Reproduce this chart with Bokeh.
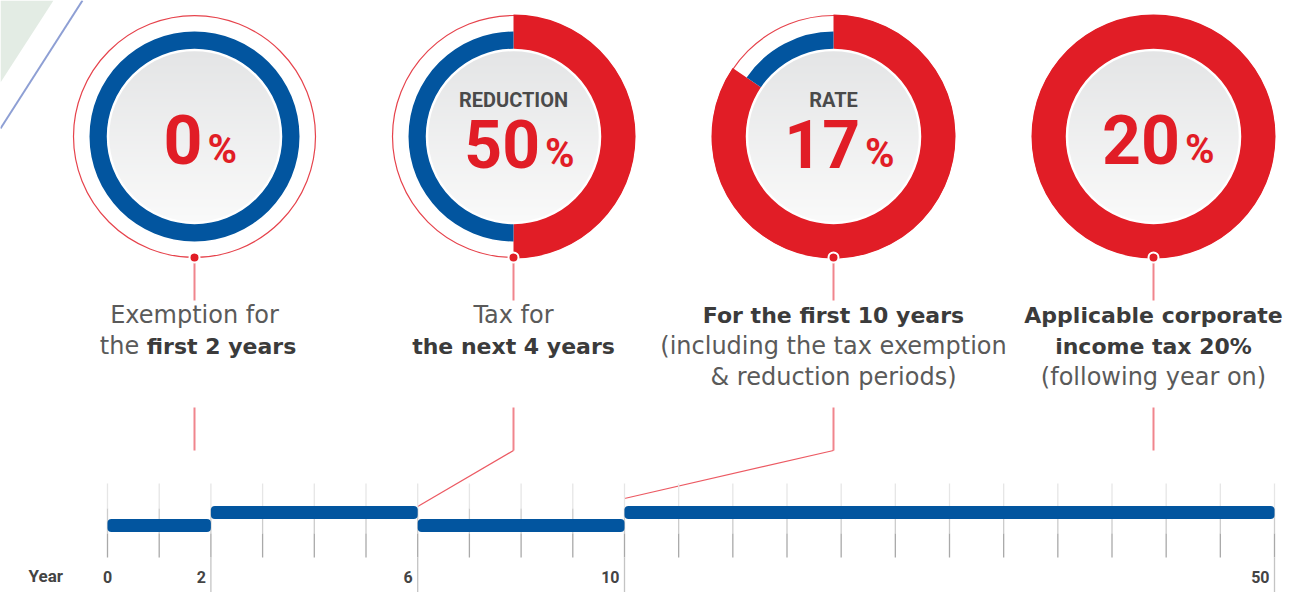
import math
import numpy as np
from bokeh.plotting import figure
from bokeh.models import Range1d
from bokeh.core.properties import value
from bokeh.embed import file_html
from bokeh.resources import INLINE

# ---------------- data ----------------
big_numbers = ["0", "50", "17", "20"]
headers = ["", "REDUCTION", "RATE", ""]
red_share = [0.0, 0.5, 0.845, 1.0]          # share of each ring drawn in red
label_lines = [
    [[("Exemption for", False)], [("the ", False), ("first 2 years", True)]],
    [[("Tax for", False)], [("the next 4 years", True)]],
    [[("For the first 10 years", True)], [("(including the tax exemption", False)],
     [("& reduction periods)", False)]],
    [[("Applicable corporate", True)], [("income tax 20%", True)], [("(following year on)", False)]],
]
connector_year = [None, 6, 10, None]
period_start = [0, 2, 6, 10]
period_end = [2, 6, 10, 50]
period_level = [0, 1, 0, 1]
axis_years = [0, 2, 6, 10, 50]
axis_labels = ["0", "2", "6", "10", "50"]
axis_title = "Year"

# ---------------- layout / style ----------------
W, H = 1313, 592
UNIT_PX = 51.7          # px per year (years 0..10)
ORIGIN_PX = 107         # page x of year 0
LATE_SPAN_PX = 650      # px for years 10..50
CX_PX = [194, 513, 833, 1153]
CY = 136
R_DISK = 86.5
RED = "#e11d26"
BLUE = "#02559f"
PINK = "#f0858d"
TXT = "#5a5a5a"
TXT_B = "#3b3b3b"
LABEL_FONT = "DejaVu Sans"
NUM_FONT = "Roboto"


def px(xp):
    return (xp - ORIGIN_PX) / UNIT_PX


def pos(year):
    if year <= 10:
        return float(year)
    return 10 + (year - 10) * (LATE_SPAN_PX / UNIT_PX) / 40.0


def ymid(baseline, size):
    return baseline - 0.36 * size


def est_width(s, size, bold):
    w = 0.0
    for ch in s:
        if ch in "ilfjtr .,()'!|":
            w += 0.36 if not bold else 0.42
        elif ch in "mwMW%":
            w += 0.97
        else:
            w += 0.62 if not bold else 0.68
    return w * size


p = figure(width=W, height=H, x_range=Range1d(px(0), px(W)), y_range=Range1d(H, 0),
           output_backend="svg", toolbar_location=None, min_border=0,
           x_axis_type=None, y_axis_type=None)
p.grid.visible = False
p.outline_line_color = None
p.background_fill_color = "white"
p.border_fill_color = "white"

# decoration top-left
p.patch([px(0), px(53), px(0)], [0, 0, 82], fill_color="#e3ece4", line_color=None)
p.line([px(82), px(0)], [0, 128], line_color="#8e9fd4", line_width=2)

xs = [px(c) for c in CX_PX]
ys = [CY] * len(xs)

# thin outer circles
p.circle(x=xs, y=ys, radius=121, radius_units="screen", fill_color=None, line_color="#e6434c", line_width=1.2)

# red arcs (clockwise from top)
for x, s in zip(xs, red_share):
    if s <= 0:
        continue
    if s >= 1:
        a0, a1 = 0.0, 2 * math.pi
    else:
        a0, a1 = math.pi / 2 - s * 2 * math.pi, math.pi / 2
    p.annular_wedge(x=[x], y=[CY], inner_radius=86, outer_radius=122, inner_radius_units="screen",
                    outer_radius_units="screen", start_angle=a0, end_angle=a1, direction="anticlock",
                    fill_color=RED, line_color=None)
# blue arcs (the remaining share)
for x, s in zip(xs, red_share):
    if s >= 1:
        continue
    if s <= 0:
        a0, a1 = 0.0, 2 * math.pi
    else:
        a0, a1 = math.pi / 2, math.pi / 2 + (1 - s) * 2 * math.pi
    p.annular_wedge(x=[x], y=[CY], inner_radius=86, outer_radius=105, inner_radius_units="screen",
                    outer_radius_units="screen", start_angle=a0, end_angle=a1, direction="anticlock",
                    fill_color=BLUE, line_color=None)

# inner grey disk with vertical gradient (image): darker at top, lighter at bottom
N = int(2 * R_DISK) + 2
yy, xx = np.mgrid[0:N, 0:N]
c = (N - 1) / 2.0
dist = np.sqrt((xx - c) ** 2 + (yy - c) ** 2)
alpha = np.clip(R_DISK - dist + 0.5, 0, 1)
t = yy / (N - 1.0)
top_col = np.array([228, 229, 230], float)
bot_col = np.array([250, 250, 250], float)
rgb = top_col[None, None, :] * (1 - t[..., None]) + bot_col[None, None, :] * t[..., None]
img = np.zeros((N, N, 4), dtype=np.uint8)
img[..., :3] = rgb.astype(np.uint8)
img[..., 3] = (alpha * 255).astype(np.uint8)
img32 = img.view(dtype=np.uint32).reshape((N, N))
for x in xs:
    p.image_rgba(image=[img32], x=[x], y=[CY], dw=[N / UNIT_PX], dh=[N], anchor="center",
                 origin="bottom_left")
p.circle(x=xs, y=ys, radius=R_DISK, radius_units="screen", fill_color=None, line_color="white",
         line_width=2.5)

# numbers
PCT_SIZE, GAP = 40, 5
for x_px, num, hdr in zip(CX_PX, big_numbers, headers):
    num_size = 66 if hdr else 68
    num_w = 37 * len(num)
    split = x_px + (num_w - GAP - 30) / 2 + 7
    base = 167 if hdr else 163
    p.text(x=[px(split)], y=[ymid(base, num_size)], text=[num], text_font=value(NUM_FONT),
           text_font_style="bold", text_font_size=value(f"{num_size}px"), text_color=RED,
           text_align="right", text_baseline="middle")
    p.text(x=[px(split + GAP)], y=[ymid(base, PCT_SIZE)], text=["%"], text_font=value(NUM_FONT),
           text_font_style="bold", text_font_size=value(f"{PCT_SIZE}px"), text_color=RED,
           text_align="left", text_baseline="middle")
    if hdr:
        p.text(x=[px(x_px)], y=[ymid(107, 20)], text=[hdr], text_font=value(NUM_FONT),
               text_font_style="bold", text_font_size=value("20px"), text_color="#4a4a4a",
               text_align="center", text_baseline="middle")

# dots and connectors
p.segment(x0=xs, y0=[262] * 4, x1=xs, y1=[300] * 4, line_color=PINK, line_width=2)
p.segment(x0=xs, y0=[407] * 4, x1=xs, y1=[450] * 4, line_color=PINK, line_width=2)
conn_end_y = [None, 506, 498, None]
for x, yr, ye in zip(xs, connector_year, conn_end_y):
    if yr is None:
        continue
    p.line([x, pos(yr)], [450, ye], line_color="#ec5a63", line_width=1.2)
p.scatter(x=xs, y=[257] * 4, size=10, marker="circle", fill_color=RED, line_color="white", line_width=2)

# label texts
REG, BLD = 24, 22
for x_px, lines in zip(CX_PX, label_lines):
    for li, segs in enumerate(lines):
        base = 323 + 31 * li
        if len(segs) == 1:
            t_, b = segs[0]
            sz = BLD if b else REG
            p.text(x=[px(x_px)], y=[ymid(base, sz)], text=[t_], text_font=value(LABEL_FONT),
                   text_font_style="bold" if b else "normal", text_font_size=value(f"{sz}px"),
                   text_color=TXT_B if b else TXT, text_align="center", text_baseline="middle")
        else:
            widths = [est_width(t_, BLD if b else REG, b) for t_, b in segs]
            left = x_px - sum(widths) / 2 + 6
            for (t_, b), w in zip(segs, widths):
                sz = BLD if b else REG
                p.text(x=[px(left)], y=[ymid(base, sz)], text=[t_], text_font=value(LABEL_FONT),
                       text_font_style="bold" if b else "normal", text_font_size=value(f"{sz}px"),
                       text_color=TXT_B if b else TXT, text_align="left", text_baseline="middle")
                left += w

# timeline tick lines
tick_pos = [pos(y) for y in range(0, 11)] + [10 + i * (pos(50) - 10) / 12 for i in range(1, 13)]
for (y0, y1, col) in [(483, 508, "#e6e6e6"), (508, 533, "#cccccc"), (533, 557, "#a9a9a9")]:
    p.segment(x0=tick_pos, y0=[y0] * len(tick_pos), x1=tick_pos, y1=[y1] * len(tick_pos),
              line_color=col, line_width=1.3)
major = [pos(y) for y in axis_years if y > 0]
p.segment(x0=major, y0=[557] * len(major), x1=major, y1=[600] * len(major), line_color="#c4c4c4",
          line_width=1.3)

# period bars
BAR_Y = {0: 525, 1: 512}
inset = 4 / UNIT_PX
p.quad(left=[pos(s) + inset for s in period_start], right=[pos(e) - inset for e in period_end],
       top=[BAR_Y[l] - 2.5 for l in period_level], bottom=[BAR_Y[l] + 2.5 for l in period_level],
       fill_color=BLUE, line_color=BLUE, line_width=8, line_join="round")

# axis labels
AX = 16
for yr, lab in zip(axis_years, axis_labels):
    if yr == 0:
        p.text(x=[pos(yr)], y=[ymid(582, AX)], text=[lab], text_font=value(NUM_FONT), text_font_style="bold",
               text_font_size=value(f"{AX}px"), text_color="#444444", text_align="center",
               text_baseline="middle")
    else:
        p.text(x=[pos(yr) - 5 / UNIT_PX], y=[ymid(582, AX)], text=[lab], text_font=value(NUM_FONT),
               text_font_style="bold", text_font_size=value(f"{AX}px"), text_color="#444444",
               text_align="right", text_baseline="middle")
p.text(x=[px(28)], y=[ymid(582, 17)], text=[axis_title], text_font=value(NUM_FONT), text_font_style="bold",
       text_font_size=value("17px"), text_color="#444444", text_align="left", text_baseline="middle")

open("out.html", "w").write(file_html(p, INLINE))
